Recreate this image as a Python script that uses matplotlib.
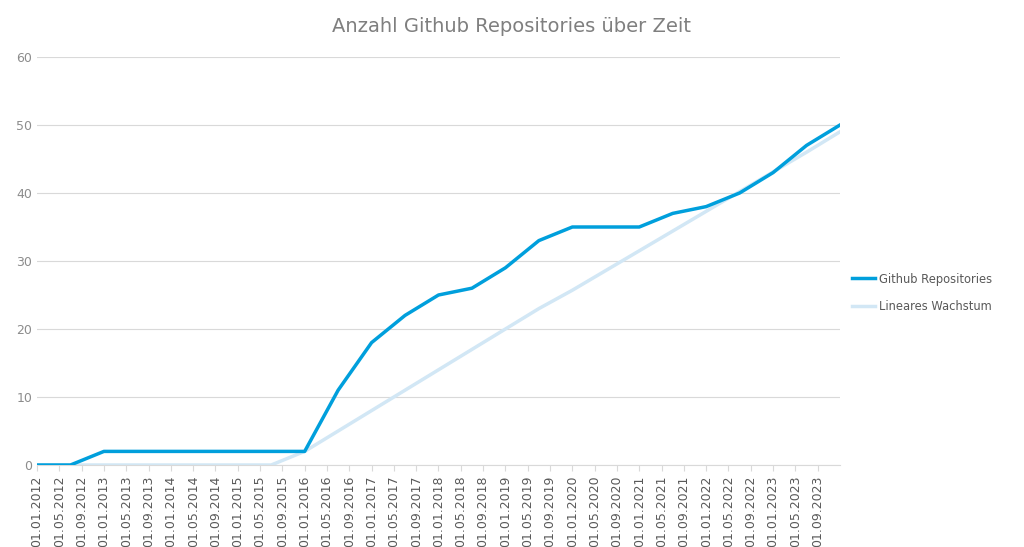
import matplotlib
matplotlib.use("Agg")
import matplotlib.pyplot as plt

# half-year data points (months since 01.01.2012)
months = [0,6,12,18,24,30,36,42,48,54,60,66,72,78,84,90,96,102,108,114,120,126,132,138,144]
github = [0,0,2,2,2,2,2,2,2,11,18,22,25,26,29,33,35,35,35,37,38,40,43,47,50]
linear = [0,0,0,0,0,0,0,0,2,5,8,11,14,17,20,23,25.7,28.6,31.5,34.4,37.3,40.2,43.1,46,49]
tick_labels = [f"01.{m:02d}.{y}" for y in range(2012, 2024) for m in (1, 5, 9)]
tick_pos = [(y - 2012) * 12 + (m - 1) for y in range(2012, 2024) for m in (1, 5, 9)]

fig = plt.figure(figsize=(10.24, 5.47), dpi=100)
ax = fig.add_axes([37/1024, 1-465/547, (840-37)/1024, (465-57)/547])
ax.plot(months, linear, color="#D2E7F5", lw=2.5, label="Lineares Wachstum", zorder=2)
ax.plot(months, github, color="#009FDC", lw=2.5, label="Github Repositories", zorder=3)
ax.set_xlim(0, 144)
ax.set_ylim(0, 60)
ax.set_yticks(range(0, 61, 10))
ax.set_xticks(tick_pos)
ax.set_xticklabels(tick_labels, rotation=90, fontsize=9, color="#595959")
ax.tick_params(axis="y", labelsize=9, colors="#8c8c8c", length=0)
ax.tick_params(axis="x", length=4, color="#d9d9d9")
ax.grid(axis="y", color="#d9d9d9", lw=0.8)
for s in ("left", "right", "top"):
    ax.spines[s].set_visible(False)
ax.spines["bottom"].set_color("#d9d9d9")
ax.set_axisbelow(True)
fig.text(512/1024, 1-27/547, "Anzahl Github Repositories über Zeit", ha="center", va="center",
         fontsize=14, color="#7f7f7f")
h, l = ax.get_legend_handles_labels()
fig.legend(h[::-1], l[::-1], loc="center left", bbox_to_anchor=(852/1024, 1-293/547),
           frameon=False, fontsize=8.3, labelcolor="#595959", handlelength=2.0,
           handletextpad=0.3, labelspacing=1.3, borderaxespad=0, borderpad=0)
fig.savefig("out.png", dpi=100)
